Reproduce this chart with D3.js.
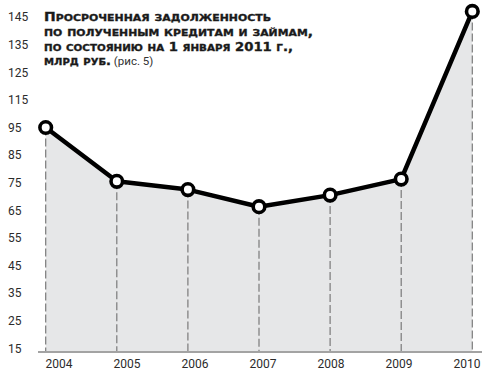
<!DOCTYPE html>
<meta charset="utf-8">
<head>
<style>
body { margin: 0; background: #fff; }
svg text { font-family: Roboto, 'Noto Sans', sans-serif; }
.tick-y, .tick-x { font-size: 12px; fill: #2b2b2b; }
.title { font-family: 'DejaVu Sans', sans-serif; font-weight: bold; font-size: 12px; fill: #1a1a1a; stroke: #1a1a1a; stroke-width: 0.35px; }
</style>
<script src="https://d3js.org/d3.v7.min.js"></script>
</head>
<body>
<svg id="chart"></svg>
<script>
// data
var years = ['2004', '2005', '2006', '2007', '2008', '2009', '2010']
var values = [95, 75.5, 72.5, 66.3, 70.5, 76.3, 147]
var yTicks = [145, 135, 125, 115, 95, 85, 75, 65, 55, 45, 35, 25, 15]
var titleLines = ['Просроченная задолженность', 'по полученным кредитам и займам,', 'по состоянию на 1 января 2011 г.,', 'млрд руб.']
var titleNote = ' (рис. 5)'

var width = 500, height = 380

var svg = d3.select('#chart').attr('width', width).attr('height', height)

// the printed axis skips 105, so the scale is piecewise
var y = d3.scaleLinear()
  .domain([15, 95, 115, 145])
  .range([348.3, 127.5, 99.9, 17])

var x = d3.scalePoint().domain(years).range([45.7, 472.3])
// year labels sit on a slightly narrower spacing than the points
var xLab = d3.scalePoint().domain(years).range([58.5, 466.5])

var baseY = 352

// area
var area = d3.area()
  .x(function (d, i) { return x(years[i]) })
  .y0(baseY)
  .y1(function (d) { return y(d) })

svg.append('path')
  .datum(values)
  .attr('d', area)
  .attr('fill', '#e6e7e8')

// dashed droplines
svg.selectAll('.drop')
  .data(values)
  .enter().append('line')
  .attr('class', 'drop')
  .attr('x1', function (d, i) { return x(years[i]) })
  .attr('x2', function (d, i) { return x(years[i]) })
  .attr('y1', function (d) { return y(d) })
  .attr('y2', baseY)
  .attr('stroke', '#7a7a7a')
  .attr('stroke-width', 1.2)
  .attr('stroke-dasharray', '8,3')

// baseline
svg.append('line')
  .attr('x1', 38).attr('x2', 482)
  .attr('y1', baseY).attr('y2', baseY)
  .attr('stroke', '#a3a3a3')
  .attr('stroke-width', 2)

// y labels
svg.selectAll('.tick-y')
  .data(yTicks)
  .enter().append('text')
  .attr('class', 'tick-y')
  .attr('x', 8)
  .attr('y', function (d) { return y(d) })
  .attr('dy', '0.36em')
  .text(function (d) { return d })

// x axis labels
var xAxis = svg.append('g')
  .attr('transform', 'translate(0,' + (baseY + 5) + ')')
  .call(d3.axisBottom(xLab).tickSize(0).tickPadding(0))
xAxis.select('.domain').remove()
xAxis.selectAll('text')
  .attr('class', 'tick-x')
  .attr('fill', null)
  .attr('font-family', null)
  .attr('font-size', null)
  .attr('y', 0)
  .attr('dy', '0.95em')

// line
var line = d3.line()
  .x(function (d, i) { return x(years[i]) })
  .y(function (d) { return y(d) })

svg.append('path')
  .datum(values)
  .attr('d', line)
  .attr('fill', 'none')
  .attr('stroke', '#000')
  .attr('stroke-width', 4.5)
  .attr('stroke-linejoin', 'round')

svg.selectAll('.dot')
  .data(values)
  .enter().append('circle')
  .attr('class', 'dot')
  .attr('cx', function (d, i) { return x(years[i]) })
  .attr('cy', function (d) { return y(d) })
  .attr('r', 5.8)
  .attr('fill', '#fff')
  .attr('stroke', '#000')
  .attr('stroke-width', 3.6)

// title in small caps: split into runs of lower / other characters
function runs(s) {
  var out = []
  for (var i = 0; i < s.length; i++) {
    var c = s[i]
    var low = c !== c.toUpperCase()
    if (out.length && out[out.length - 1].low === low) out[out.length - 1].t += c
    else out.push({ t: c, low: low })
  }
  return out
}

var lineW = [227, 269, 249, 67]
titleLines.forEach(function (t, i) {
  var txt = svg.append('text')
    .attr('class', 'title')
    .attr('x', 44)
    .attr('y', 21 + i * 14.8)
  var g = txt.append('tspan')
    .attr('textLength', lineW[i])
    .attr('lengthAdjust', 'spacingAndGlyphs')
  runs(t).forEach(function (r) {
    g.append('tspan')
      .attr('font-size', r.low ? '9.4px' : '12px')
      .text(r.low ? r.t.toUpperCase() : r.t)
  })
  if (i === titleLines.length - 1) {
    txt.append('tspan')
      .attr('font-weight', 'normal')
      .style('font-family', 'Roboto, sans-serif')
      .style('stroke', 'none')
      .attr('font-size', '11.5px')
      .attr('fill', '#333')
      .text(titleNote)
  }
})
</script>
</body>
